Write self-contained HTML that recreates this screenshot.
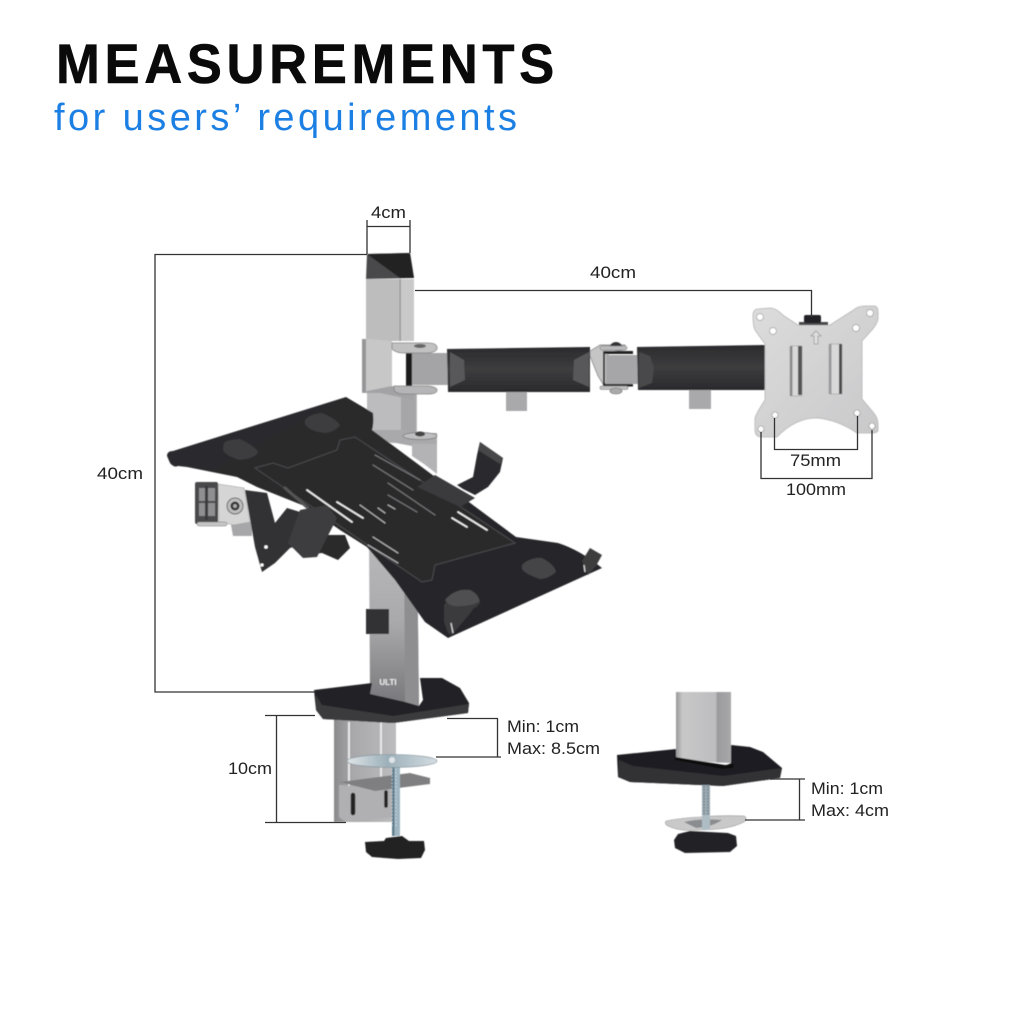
<!DOCTYPE html>
<html><head><meta charset="utf-8"><style>
html,body{margin:0;padding:0;background:#fff}
svg{display:block}
text{font-family:"Liberation Sans",sans-serif}
.l{font-size:17px;fill:#222}
</style></head><body>
<svg width="1024" height="1024" viewBox="0 0 1024 1024" xmlns="http://www.w3.org/2000/svg">
<defs>
<linearGradient id="col2" x1="0" y1="0" x2="0" y2="1"><stop offset="0" stop-color="#b9b9bb"/><stop offset=".5" stop-color="#a9a9ab"/><stop offset="1" stop-color="#77777b"/></linearGradient>
<linearGradient id="sl" x1="0" y1="0" x2="0" y2="1"><stop offset="0" stop-color="#2b2b2d"/><stop offset=".5" stop-color="#3d3d3f"/><stop offset="1" stop-color="#2a2a2c"/></linearGradient>
<linearGradient id="tr" x1="0" y1="0" x2="1" y2="1"><stop offset="0" stop-color="#2c2c2e"/><stop offset="1" stop-color="#262628"/></linearGradient>
<linearGradient id="pl" x1="0" y1="0" x2="1" y2="1"><stop offset="0" stop-color="#dcdcdc"/><stop offset="1" stop-color="#c9c9ca"/></linearGradient>
<linearGradient id="clamp" x1="0" y1="0" x2="1" y2="0"><stop offset="0" stop-color="#8a8a8c"/><stop offset=".3" stop-color="#a8a8aa"/><stop offset="1" stop-color="#bcbcbe"/></linearGradient>
<linearGradient id="disc" x1="0" y1="0" x2="1" y2="0"><stop offset="0" stop-color="#dfe5e8"/><stop offset=".45" stop-color="#9db0ba"/><stop offset="1" stop-color="#d3dde2"/></linearGradient>
<linearGradient id="col3" x1="0" y1="0" x2="1" y2="0"><stop offset="0" stop-color="#98989a"/><stop offset=".12" stop-color="#c8c8c9"/><stop offset=".72" stop-color="#bdbdbf"/><stop offset=".75" stop-color="#9b9b9d"/><stop offset="1" stop-color="#a8a8aa"/></linearGradient>
<filter id="b" x="-5%" y="-5%" width="110%" height="110%"><feGaussianBlur stdDeviation=".45"/></filter>
</defs>

<!-- Titles -->
<text transform="translate(56 83) scale(.94 1)" font-size="56" font-weight="700" fill="#0a0a0a" stroke="#0a0a0a" stroke-width=".6" textLength="530" lengthAdjust="spacing">MEASUREMENTS</text>
<text x="54" y="130" font-size="38" fill="#1b7fe3" textLength="463" lengthAdjust="spacing">for users’ requirements</text>

<g filter="url(#b)">
<!-- Column -->
<rect x="366" y="279" width="48" height="62" fill="#bdbdbe"/>
<rect x="400" y="279" width="14" height="62" fill="#c9c9ca"/>
<rect x="399.5" y="279" width="1.2" height="62" fill="#8e8e90"/>
<polygon points="367,254 410,253 414,278 366,279" fill="#4a4a4c"/>
<polygon points="367,254 410,253 414,278 400,278" fill="#202022"/>
<rect x="367" y="393" width="50" height="50" fill="#bcbcbe"/>
<rect x="401" y="393" width="15" height="50" fill="#a6a6a8"/>
<polygon points="369,540 417,540 419,706 370,694" fill="url(#col2)"/>
<polygon points="404,540 417,540 419,706 405,702" fill="#8e8e91"/>
<text x="388" y="685" font-size="8" font-weight="700" fill="#eee" text-anchor="middle">ULTI</text>
<polygon points="370,694 405,702 419,706 422,702 423,706 413,710 372,698" fill="#1e1e20"/>

<!-- Collar -->
<polygon points="362,340 368,339 392,341 392,388 362,392" fill="#c7c7c8"/>
<rect x="362" y="339" width="4" height="53" fill="#959597"/>
<polygon points="362,392 392,386 414,392 414,400 380,393 362,393" fill="#a3a3a5"/>
<!-- lower collar -->
<polygon points="372,430 405,430 414,433 437,433 437,444 412,446 380,440" fill="#a9a9ab"/>
<polygon points="412,444 437,444 437,474 424,464 412,456" fill="#b3b3b5"/>
<ellipse cx="420" cy="436" rx="17" ry="3.5" fill="#bfbfc1" stroke="#777" stroke-width=".8"/>
<ellipse cx="420" cy="434" rx="5" ry="2.5" fill="#444"/>

<!-- Arm 1 -->
<rect x="406" y="351" width="6" height="36" fill="#1b1b1d"/>
<rect x="412" y="353" width="38" height="32" fill="#a4a4a6"/>
<path d="M392 343 h36 q9 0 9 5 q0 4 -9 5 h-24 q-8 0 -12 -4z" fill="#c1c1c2" stroke="#818183" stroke-width=".8"/>
<path d="M394 386 h34 q9 1 9 4 q0 4 -9 4 h-24 q-8 0 -10 -4z" fill="#b5b5b7" stroke="#818183" stroke-width=".8"/>
<ellipse cx="420" cy="346" rx="6" ry="2" fill="#666"/>
<rect x="506" y="392" width="21" height="19" fill="#a9a9ab"/>
<polygon points="447,349 590,347 590,392 448,392" fill="url(#sl)"/>
<polygon points="450,352 464,360 465,380 450,387" fill="#58585a"/>
<polygon points="589,352 574,360 573,380 589,387" fill="#58585a"/>

<!-- Joint -->
<polygon points="590,351 600,345 625,345 625,350 608,352 608,383 603,384 598,376 590,356" fill="#c5c5c6" stroke="#777" stroke-width=".7"/>
<rect x="606" y="355" width="32" height="29" fill="#a6a6a8"/>
<path d="M603 351 h30 v3 h-30z M603 384 h30 v2.5 h-30z" fill="#202022"/>
<rect x="603" y="351" width="2" height="36" fill="#333"/>
<path d="M610 347 a6 5 0 0 1 12 0 z" fill="#333"/>
<rect x="600" y="346" width="27" height="4" rx="2" fill="#bcbcbd" stroke="#777" stroke-width=".6"/>
<rect x="600" y="386" width="28" height="3.5" rx="1.7" fill="#c0c0c1" stroke="#777" stroke-width=".6"/>
<ellipse cx="616" cy="391" rx="6" ry="3" fill="#aaa" stroke="#666" stroke-width=".6"/>

<!-- Arm 2 -->
<rect x="689" y="390" width="22" height="19" fill="#a9a9ab"/>
<polygon points="637,347 766,345 766,390 638,390" fill="url(#sl)"/>
<polygon points="639,352 650,356 654,368 652,383 639,388" fill="#4a4a4c"/>

<!-- Plate -->
<path d="M753 316 Q753 309 758 309 L770 308 Q776 308 784 316 L798 325 L830 325 L852 311 Q858 306 864 306 L874 306 Q878 306 878 312 L878 319 Q877 324 872 330 L862 341 L862 399 L873 412 Q878 418 878 424 L878 430 Q878 433 872 433 L857 433 Q838 420 817 418 Q795 418 777 437 L762 437 Q755 437 755 430 L755 418 Q757 412 765 400 L765 344 L755 330 Q753 326 753 316Z" fill="url(#pl)" stroke="#b5b5b6" stroke-width=".8"/>
<rect x="790" y="346" width="12" height="50" rx="1" fill="#d9d9d9" stroke="#aaa" stroke-width=".8"/>
<rect x="798" y="346" width="4" height="49" fill="#555"/>
<rect x="790" y="346" width="2.5" height="50" fill="#8c8c8e"/>
<rect x="829" y="344" width="13" height="50" rx="1" fill="#d9d9d9" stroke="#aaa" stroke-width=".8"/>
<rect x="839" y="344" width="3" height="50" fill="#4d4d4f"/>
<rect x="829" y="344" width="2.5" height="50" fill="#9a9a9c"/>
<g fill="#fff" stroke="#888" stroke-width=".6">
<circle cx="760" cy="317" r="3.4"/><circle cx="773" cy="331" r="3.4"/><circle cx="870" cy="313" r="3.4"/><circle cx="856" cy="328" r="3.4"/>
<circle cx="775" cy="415" r="3"/><circle cx="857" cy="413" r="3"/><circle cx="761" cy="429" r="3"/><circle cx="872" cy="426" r="3"/>
</g>
<path d="M816 331 l5 5 h-3 v8 h-4 v-8 h-3z" fill="#dedede" stroke="#999" stroke-width=".8"/>
<rect x="799" y="322" width="29" height="3" fill="#4a4a4c"/>
<rect x="804" y="315" width="17" height="8" rx="2" fill="#232325"/>

<!-- Rear tilt bracket -->
<polygon points="231,525 252,522 252,536 233,536" fill="#a7a7a9"/>
<polygon points="218,484 244,488 250,522 234,525 219,522" fill="#d5d5d6" stroke="#999" stroke-width=".6"/>
<rect x="195" y="482" width="23" height="42" rx="2" fill="#4a4a4c"/>
<rect x="199" y="488" width="16" height="13" fill="#8f8f91"/>
<rect x="199" y="503" width="16" height="13" fill="#8f8f91"/>
<rect x="205" y="486" width="3" height="34" fill="#3a3a3c"/>
<rect x="197" y="522" width="30" height="4" rx="2" fill="#c5c5c6" stroke="#777" stroke-width=".5"/>
<circle cx="235" cy="506" r="8" fill="#bdbdbe" stroke="#666" stroke-width="1"/>
<circle cx="235" cy="506" r="4.5" fill="#333"/>
<circle cx="235" cy="506" r="2" fill="#aaa"/>
<polygon points="245,490 267,493 275,523 287,508 310,515 300,545 290,548 275,563 262,572 255,547" fill="#323234"/>
<circle cx="266" cy="547" r="1.8" fill="#fff"/><circle cx="262" cy="565" r="1.6" fill="#fff"/>
<polygon points="300,535 345,535 350,548 338,560 322,553 305,555" fill="#2a2a2c"/>

<!-- Tray -->
<path d="M167 456 Q167 451 173 451 L346 397 L373 413 Q374 424 372 430 L516 537 L558 543 Q580 550 602 568 L448 638 L425 622 L395 580 L367 547 L340 530 L307 507 L257 487 L237 477 L187 467 L178 466 Q174 468 170 463 Z" fill="url(#tr)"/>
<!-- inner recess outline -->
<path d="M255 468 L273 463 L288 468 L337 450 L340 440 L355 437 L515 543 L435 565 L432 580 L422 582 Z" fill="#29292b" stroke="#4c4c4f" stroke-width="1"/>
<!-- Pads -->
<path d="M224 443 Q227 440 240 439 Q256 447 258 452 Q256 458 240 460 Q226 456 223 450Z" fill="#3e3e40"/>
<path d="M305 420 Q310 414 322 413 Q336 419 340 425 Q336 431 325 433 Q309 431 305 424Z" fill="#3e3e40"/>
<path d="M522 565 Q530 557 542 558 Q555 565 556 572 Q548 579 540 579 Q525 574 522 569Z" fill="#454547"/>

<!-- Slots -->
<g stroke-linecap="round" fill="none">
<g stroke="#eee" stroke-width="1.7">
<path d="M307 490 L352 522"/>
<path d="M337 502 L363 518"/>
<path d="M458 512 L487 530"/>
<path d="M452 518 L467 527"/>
</g>
<g stroke="#b5b5b7" stroke-width="1.1">
<path d="M360 505 L385 523"/>
<path d="M378 508 L385 513"/>
<path d="M388 505 L395 509"/>
<path d="M373 537 L398 553"/>
<path d="M368 545 L398 563"/>
</g>
<g stroke="#77777a" stroke-width="1.1">
<path d="M388 483 L435 515"/>
<path d="M388 495 L417 512"/>
<path d="M373 465 L413 490"/>
<path d="M375 455 L420 480"/>
</g>
<path d="M285 488 L308 508" stroke="#555" stroke-width="3"/>
</g>

<!-- Top right clip -->
<polygon points="457,485 473,477 477,455 480,442 503,458 500,472 488,487 475,495 463,489" fill="#2c2c2e"/>
<polygon points="480,442 503,458 500,464 478,450" fill="#474749"/>
<polygon points="417,487 435,475 475,498 460,507" fill="#3a3a3c"/>
<!-- Front lower clip -->
<polygon points="300,510 327,505 337,518 317,557 303,558 288,543" fill="#3e3e40"/>
<!-- Bottom clip -->
<path d="M444 605 Q448 600 460 590 L475 594 L480 600 Q480 606 474 608 L468 616 L452 635 L448 633 L444 622 Z" fill="#3a3a3c"/>
<path d="M445 600 Q455 588 470 590 Q480 595 479 602 Q470 606 462 606 Q450 608 445 600Z" fill="#4f4f51"/>
<path d="M451 623 L453 633" stroke="#ddd" stroke-width="1.2"/>
<!-- Right clip -->
<polygon points="582,561 590,548 602,555 596,566 588,575" fill="#3c3c3e"/>
<path d="M584 565 L585 572" stroke="#ddd" stroke-width="1.2"/>

<!-- Column piece in front of tray bottom -->
<rect x="366" y="609" width="23" height="25" fill="#333335"/>

<!-- Main base & clamp -->
<rect x="334" y="719" width="62" height="103" fill="url(#clamp)"/>
<rect x="348" y="722" width="2" height="65" fill="#e8e8e8"/>
<rect x="380" y="722" width="2" height="65" fill="#e8e8e8"/>
<polygon points="314,690 372,683 370,694 419,706 423,700 420,678 442,678 460,688 469,703 468,713 393,723 323,719 316,710" fill="#232325"/>
<polygon points="316,695 322,705 393,716 469,704 468,713 393,723 323,719 316,710" fill="#3a3a3c"/>
<polygon points="339,785 395,790 395,817 346,822 339,817" fill="#b0b0b2"/>
<polygon points="340,782 410,773 430,778 430,784 375,791" fill="#7f7f81"/>
<path d="M353 795 v18" stroke="#222" stroke-width="4.5" stroke-linecap="round"/>
<path d="M386 792 v14" stroke="#222" stroke-width="3.5" stroke-linecap="round"/>
<rect x="392" y="760" width="8" height="76" fill="#9fb6c2"/>
<rect x="392" y="760" width="2.5" height="76" fill="#5f7d8c"/>
<path d="M392 765 v62 M396 765 v62" stroke="#dde5ea" stroke-width=".7" stroke-dasharray="1.5 2"/>
<ellipse cx="392" cy="761" rx="45" ry="6.5" fill="url(#disc)" stroke="#7d8d95" stroke-width=".6"/>
<circle cx="392" cy="760" r="3" fill="#dfe5e8"/>
<path d="M386 838 L402 836 L409 841 L424 841 L425 850 L421 858 L398 859 L372 857 L366 852 L365 842 L384 841Z" fill="#222224"/>

<!-- Right base -->
<polygon points="676,692 731,692 731,763 676,761" fill="url(#col3)"/>
<polygon points="617,755 676,749 676,759 723,767 731,763 731,745 750,747 763,752 782,768 780,778 723,786 630,782 618,777" fill="#1f1f21"/>
<polygon points="619,760 633,766 723,776 782,768 780,778 723,786 630,782 618,777" fill="#333335"/>
<polygon points="675,757 725,765 734,764 733,768 722,769 675,760" fill="#111"/>
<rect x="702" y="785" width="8" height="42" fill="#9aa9b1"/>
<path d="M704 786 v40 M708 786 v40" stroke="#556" stroke-width=".8" stroke-dasharray="1.5 1.5"/>
<path d="M666 821 Q680 818 700 817 Q720 815 744 816 Q748 818 744 822 Q728 830 700 830 Q680 832 668 826 Q664 824 666 821Z" fill="#c9c9ca" stroke="#999" stroke-width=".6"/>
<path d="M684 822 Q700 818 722 820 Q712 827 696 828Z" fill="#8a8d90"/>
<rect x="702" y="815" width="8" height="15" fill="#aebcc4"/>
<path d="M678 834 L690 831 L728 833 L736 836 L737 846 L730 852 L685 853 L675 848 L674 840Z" fill="#232325"/>
</g>

<!-- Dimension lines -->
<g fill="none" stroke="#333" stroke-width="1.3">
<path d="M367 220 V254 M410 220 V253 M367 226.5 H410"/>
<path d="M367 254.5 H155 V692 H315"/>
<path d="M415 290.5 H811.5 V317"/>
<path d="M774.5 418 V449.5 H857.5 V416"/>
<path d="M761 432 V478.5 H872 V430"/>
<path d="M447 718.5 H498 M497.5 718.5 V757 M436 757 H501"/>
<path d="M315 715.5 H265 M276.5 715.5 V822.5 M265 822.5 H346"/>
<path d="M770 779 H805 M799.5 779 V820 M745 820 H805"/>
</g>

<!-- Labels -->
<text class="l" x="371" y="218" textLength="35" lengthAdjust="spacingAndGlyphs">4cm</text>
<text class="l" x="590" y="278" textLength="46" lengthAdjust="spacingAndGlyphs">40cm</text>
<text class="l" x="97" y="479" textLength="46" lengthAdjust="spacingAndGlyphs">40cm</text>
<text class="l" x="790" y="466" textLength="51" lengthAdjust="spacingAndGlyphs">75mm</text>
<text class="l" x="786" y="495" textLength="60" lengthAdjust="spacingAndGlyphs">100mm</text>
<text class="l" x="228" y="774" textLength="44" lengthAdjust="spacingAndGlyphs">10cm</text>
<text class="l" x="507" y="732" textLength="72" lengthAdjust="spacingAndGlyphs">Min: 1cm</text>
<text class="l" x="507" y="754" textLength="93" lengthAdjust="spacingAndGlyphs">Max: 8.5cm</text>
<text class="l" x="811" y="794" textLength="72" lengthAdjust="spacingAndGlyphs">Min: 1cm</text>
<text class="l" x="811" y="816" textLength="78" lengthAdjust="spacingAndGlyphs">Max: 4cm</text>
</svg>
</body></html>
